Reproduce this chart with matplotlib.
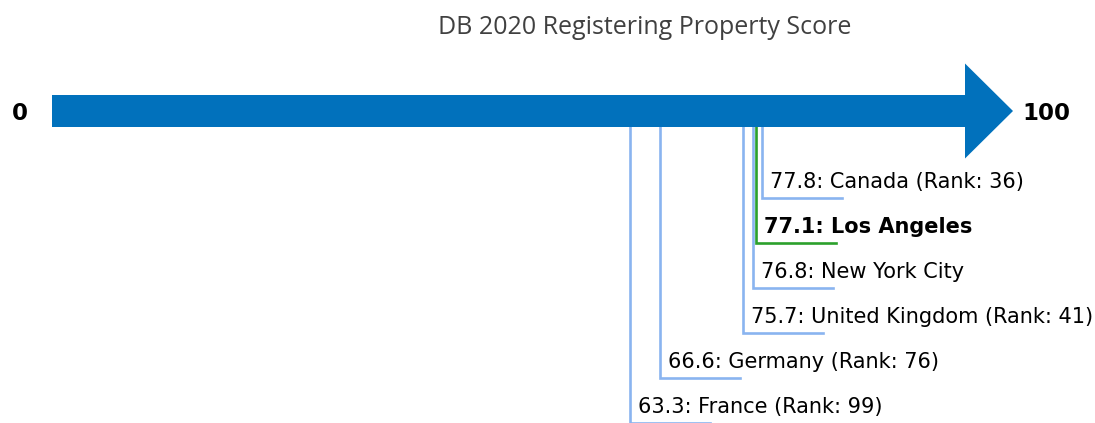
import matplotlib.pyplot as plt

plt.rcParams['font.family'] = 'DejaVu Sans'

# Scores
labels = ['Canada (Rank: 36)', 'Los Angeles', 'New York City',
          'United Kingdom (Rank: 41)', 'Germany (Rank: 76)', 'France (Rank: 99)']
scores = [77.8, 77.1, 76.8, 75.7, 66.6, 63.3]
highlight = 'Los Angeles'
axis_min, axis_max = 0, 100

W, H = 1095, 423
fig = plt.figure(figsize=(W / 100, H / 100), dpi=100)
# x axis in score units (0..100), y axis in pixels from the top
ax = fig.add_axes([52 / W, 0, 913 / W, 1])
ax.set_xlim(axis_min, axis_max)
ax.set_ylim(H, 0)
ax.axis('off')

px = (axis_max - axis_min) / 913  # score units per pixel
arrow_y, body, head = 111, 16, 47.5
tip = axis_max + 48 * px
ax.fill([axis_min, axis_max, axis_max, tip, axis_max, axis_max, axis_min],
        [arrow_y - body, arrow_y - body, arrow_y - head, arrow_y,
         arrow_y + head, arrow_y + body, arrow_y + body],
        color='#0171bc', zorder=3, clip_on=False, lw=0)
ax.text(axis_min - 32 * px, arrow_y + 2, str(axis_min), ha='center', va='center',
        fontsize=16.5, fontweight='bold')
ax.text(axis_max + 57 * px, arrow_y + 2, str(axis_max), ha='left', va='center',
        fontsize=16.5, fontweight='bold')

# leader lines, stacked from the highest score down
for i, (lab, v) in enumerate(zip(labels, scores)):
    bottom = 198 + 45 * i
    hl = lab == highlight
    col = '#2ca02c' if hl else '#8ab4f0'
    ax.plot([v, v, v + 80 * px], [arrow_y, bottom, bottom], color=col,
            lw=1.9, zorder=1, solid_joinstyle='miter')
    ax.text(v + 8 * px, bottom - 16, f'{v}: {lab}', ha='left', va='center',
            fontsize=15, fontweight='bold' if hl else 'normal')

fig.text(645 / W, 1 - 28 / H, 'DB 2020 Registering Property Score',
         ha='center', va='center', fontsize=18, color='#404040',
         family='Open Sans')

fig.savefig('out.png', dpi=100)
